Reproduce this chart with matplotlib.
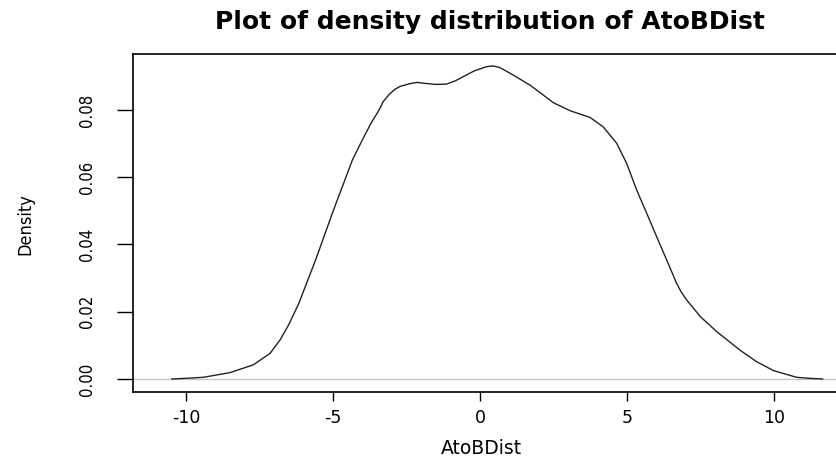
import matplotlib
matplotlib.use("Agg")
import matplotlib.pyplot as plt
from matplotlib import font_manager as fm
from matplotlib.ticker import FixedLocator, FixedFormatter

# ---- data ----
dist_x = [-10.49, -10.0, -9.41, -8.5, -7.71, -7.14, -6.8, -6.5, -6.16, -5.59, -5.02,
          -4.68, -4.34, -4.0, -3.71, -3.43, -3.29, -3.09, -2.9, -2.72, -2.4, -2.15, -1.85,
          -1.5, -1.13, -0.83, -0.57, -0.2, 0.23, 0.45, 0.68, 1.13, 1.70,
          2.1, 2.49, 3.06, 3.74, 4.19, 4.65, 4.99, 5.33, 5.67, 6.01,
          6.35, 6.69, 6.85, 7.03, 7.5, 8.05, 8.84, 9.4, 9.98, 10.77, 11.2, 11.66]
density_y = [0.0, 0.0002, 0.0005, 0.0019, 0.0042, 0.0076, 0.0116, 0.0162, 0.0225, 0.0354, 0.0493,
             0.0572, 0.0651, 0.0711, 0.0760, 0.0800, 0.0825, 0.0846, 0.0861, 0.0870, 0.0878, 0.0882, 0.0879,
             0.0876, 0.0877, 0.0887, 0.0899, 0.0916, 0.0929, 0.0931, 0.0926, 0.0904, 0.0874,
             0.0848, 0.0822, 0.0798, 0.0778, 0.0750, 0.0701, 0.0641, 0.0562, 0.0493, 0.0423,
             0.0354, 0.0284, 0.0258, 0.0235, 0.0185, 0.0141, 0.0086, 0.0052, 0.0025, 0.0005, 0.0002, 0.0]
x_ticks = [-10, -5, 0, 5, 10]
x_tick_labels = ["-10", "-5", "0", "5", "10"]
y_ticks = [0.00, 0.02, 0.04, 0.06, 0.08]
y_tick_labels = ["0.00", "0.02", "0.04", "0.06", "0.08"]
title_text = "Plot of density distribution of AtoBDist"
x_label = "AtoBDist"
y_label = "Density"

# ---- fonts ----
ttf = fm.fontManager.ttflist
names = {f.name for f in ttf}
if "Liberation Sans Narrow" in names:
    narrow_kw = dict(family="Liberation Sans Narrow")
elif any(f.name == "DejaVu Sans" and str(f.stretch) in ("condensed", "semi-condensed", "600", "700") for f in ttf):
    narrow_kw = dict(family="DejaVu Sans", stretch="condensed")
else:
    narrow_kw = dict(family="Liberation Sans")

W, H = 837, 459
fig = plt.figure(figsize=(W / 100, H / 100), dpi=100)
fig.patch.set_facecolor("white")

left_px, right_px, top_px, bottom_px = 133, 850, 54, 392
ax = fig.add_axes([left_px / W, 1 - bottom_px / H, (right_px - left_px) / W, (bottom_px - top_px) / H])

ax.plot(dist_x, density_y, color="#222222", lw=1.0, zorder=3,
        solid_joinstyle="round", solid_capstyle="round")
ax.axhline(0, color="#c4c4c4", lw=0.9, zorder=2)

ax.set_xlim(-11.80, 12.585)
ax.set_ylim(-0.00387, 0.09665)

ax.xaxis.set_major_locator(FixedLocator(x_ticks))
ax.xaxis.set_major_formatter(FixedFormatter(x_tick_labels))
ax.yaxis.set_major_locator(FixedLocator(y_ticks))
ax.yaxis.set_major_formatter(FixedFormatter(y_tick_labels))

for s in ax.spines.values():
    s.set_linewidth(1.2)
    s.set_color("black")

ax.tick_params(axis="x", direction="out", length=6.5, width=1.0, pad=6,
               labelsize=12.5, colors="black")
ax.tick_params(axis="y", direction="out", length=11.5, width=1.0, pad=21.5,
               labelsize=12, colors="black")
for lab in ax.get_xticklabels():
    lab.set_family("DejaVu Sans")
for lab in ax.get_yticklabels():
    lab.set_rotation(90)
    lab.set_ha("center")
    lab.set_va("center")
    lab.set_fontproperties(fm.FontProperties(size=12, **narrow_kw))

fig.text(490 / W, 1 - 22 / H, title_text, ha="center", va="center",
         fontsize=18, fontweight="bold", family="DejaVu Sans")
fig.text(481 / W, 1 - 448 / H, x_label, ha="center", va="center",
         fontsize=13.5, family="DejaVu Sans")
fig.text(25 / W, 1 - 224 / H, y_label, ha="center", va="center", rotation=90,
         fontproperties=fm.FontProperties(size=13, **narrow_kw))

fig.savefig("out.png", dpi=100, facecolor="white")
